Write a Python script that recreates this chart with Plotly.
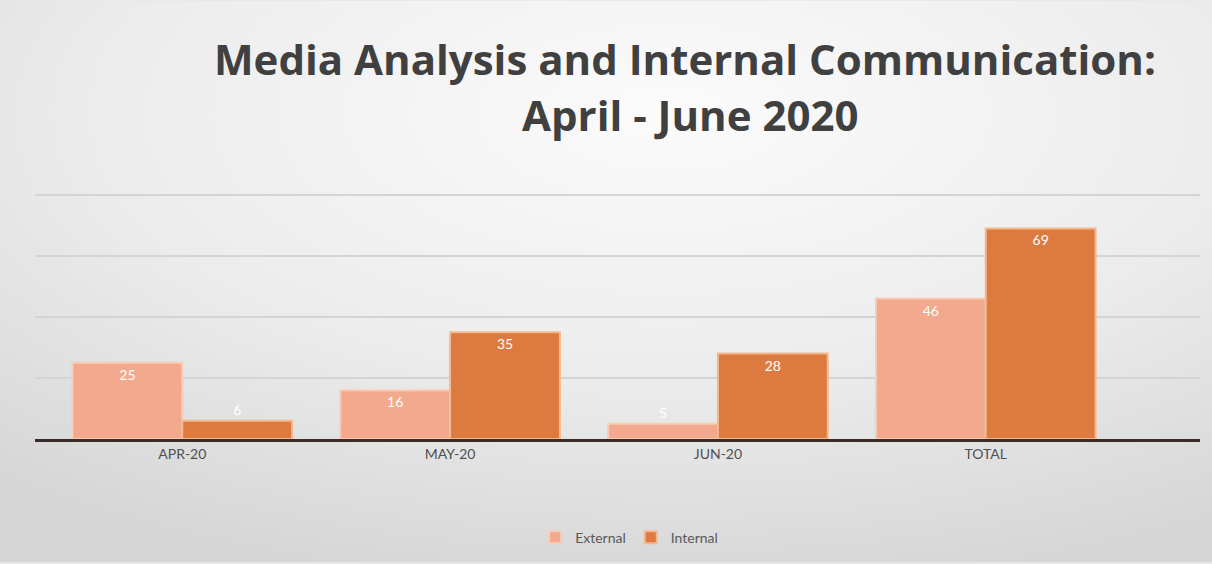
import plotly.graph_objects as go
import base64

categories = ["APR-20", "MAY-20", "JUN-20", "TOTAL"]
external = [25, 16, 5, 46]
internal = [6, 35, 28, 69]
series_names = ["External", "Internal"]
title_lines = ["Media Analysis and Internal Communication:", "April - June 2020"]

svg = """<svg xmlns='http://www.w3.org/2000/svg' width='1212' height='564'>
<defs><radialGradient id='g' cx='0.55' cy='0.2' r='0.85'>
<stop offset='0' stop-color='#fbfbfb'/><stop offset='0.55' stop-color='#ececec'/>
<stop offset='1' stop-color='#d6d6d6'/></radialGradient></defs>
<rect width='1212' height='564' fill='url(#g)'/></svg>"""
bg_uri = "data:image/svg+xml;base64," + base64.b64encode(svg.encode()).decode()

PT, PB = 193, 124
PH = 564 - PT - PB

fig = go.Figure()
fig.add_trace(go.Bar(
    name=series_names[0], x=categories, y=external,
    marker=dict(color="#F3A98D", line=dict(color="#F8CDB8", width=2)),
    text=external, textposition=["inside", "inside", "outside", "inside"],
    insidetextanchor="end", textangle=0,
    textfont=dict(color="white", size=14, family="Lato"), cliponaxis=False,
))
fig.add_trace(go.Bar(
    name=series_names[1], x=categories, y=internal,
    marker=dict(color="#DC7A3F", line=dict(color="#F3B98E", width=2)),
    text=internal, textposition=["outside", "inside", "inside", "inside"],
    insidetextanchor="end", textangle=0,
    textfont=dict(color="white", size=14, family="Lato"), cliponaxis=False,
))

title_font = dict(family="Open Sans", size=42, color="#404040")
fig.update_layout(
    width=1212, height=564,
    margin=dict(l=35, r=12, t=PT, b=PB),
    paper_bgcolor="#e8e8e8", plot_bgcolor="rgba(0,0,0,0)",
    images=[dict(source=bg_uri, xref="paper", yref="paper", x=-35/1165, y=1 + PT/PH,
                 sizex=1212/1165, sizey=564/PH, sizing="stretch", layer="below",
                 xanchor="left", yanchor="top")],
    barmode="group", bargap=0.18, bargroupgap=0,
    annotations=[
        dict(text="<b>" + title_lines[0] + "</b>", xref="paper", yref="paper",
             x=(685 - 35) / 1165, y=1 + (PT - 58) / PH, xanchor="center", yanchor="middle",
             showarrow=False, font=title_font),
        dict(text="<b>" + title_lines[1] + "</b>", xref="paper", yref="paper",
             x=(690 - 35) / 1165, y=1 + (PT - 114) / PH, xanchor="center", yanchor="middle",
             showarrow=False, font=title_font),
    ],
    showlegend=True,
    legend=dict(orientation="h", x=0.51, xanchor="center", y=-0.395, yanchor="middle",
                font=dict(family="Lato", size=14, color="#595959"),
                bgcolor="rgba(0,0,0,0)", itemwidth=30),
    xaxis=dict(type="category", range=[-0.55, 3.8], showgrid=False,
               showline=True, linecolor="#3a2c28", linewidth=2.5,
               ticks="", tickfont=dict(family="Lato", size=14, color="#505050")),
    yaxis=dict(range=[0, 80.6], dtick=20, showgrid=True, gridcolor="#d4d4d4", gridwidth=1.5,
               showticklabels=False, zeroline=False, showline=False),
    font=dict(family="Lato"),
)

fig.write_html("out.html", config={"displayModeBar": False},
               post_script="document.body.style.margin='0';document.body.style.overflow='hidden';")
